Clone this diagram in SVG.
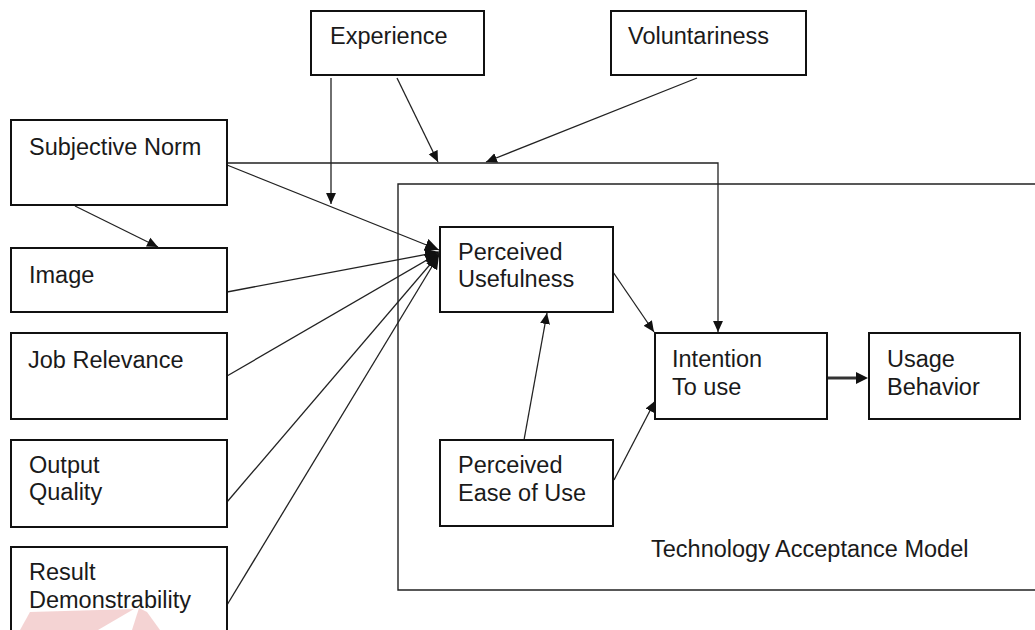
<svg xmlns="http://www.w3.org/2000/svg" width="1035" height="630" viewBox="0 0 1035 630">
<defs>
<style>
.box{fill:#fff;stroke:#111;stroke-width:2}
.frame{fill:none;stroke:#222;stroke-width:1.4}
.t{font-family:"Liberation Sans",Arial,sans-serif;font-size:23.5px;fill:#1a1a1a}
.c{fill:none;stroke:#222;stroke-width:1.3}
.thick{fill:none;stroke:#333;stroke-width:3}
.wm{fill:#f0c0c0;opacity:0.7}
</style>
<marker id="ah" viewBox="0 0 10 10" refX="10" refY="5" markerWidth="11" markerHeight="11" markerUnits="userSpaceOnUse" orient="auto">
<path d="M0,0.5 L10,5 L0,9.5 Z" fill="#111"/>
</marker>
<marker id="ahb" viewBox="0 0 10 10" refX="10" refY="5" markerWidth="14" markerHeight="14" markerUnits="userSpaceOnUse" orient="auto">
<path d="M0,0.5 L10,5 L0,9.5 Z" fill="#111"/>
</marker>
</defs>
<rect width="1035" height="630" fill="#fff"/>

<g id="tam-frame">
<path class="frame" d="M1036,184 H398 V590 H1036"/>
<text class="t" x="651" y="557">Technology Acceptance Model</text>
</g>

<g id="connectors">
<path class="c" d="M227,163 H718 V332" marker-end="url(#ah)"/>
<line class="c" x1="331" y1="78" x2="331" y2="204" marker-end="url(#ah)"/>
<line class="c" x1="397" y1="78" x2="438" y2="162" marker-end="url(#ah)"/>
<line class="c" x1="697" y1="78" x2="486" y2="162" marker-end="url(#ah)"/>
<line class="c" x1="75" y1="206" x2="158" y2="247" marker-end="url(#ah)"/>
<line class="c" x1="227" y1="165" x2="439" y2="250" marker-end="url(#ahb)"/>
<line class="c" x1="227" y1="292" x2="439" y2="252" marker-end="url(#ahb)"/>
<line class="c" x1="227" y1="376" x2="439" y2="253" marker-end="url(#ahb)"/>
<line class="c" x1="227" y1="502" x2="439" y2="254" marker-end="url(#ahb)"/>
<line class="c" x1="227" y1="605" x2="439" y2="255" marker-end="url(#ahb)"/>
<line class="c" x1="524" y1="440" x2="547" y2="313" marker-end="url(#ah)"/>
<line class="c" x1="613" y1="272" x2="654" y2="332" marker-end="url(#ah)"/>
<line class="c" x1="614" y1="480" x2="655" y2="401" marker-end="url(#ah)"/>
<line class="thick" x1="827" y1="378" x2="858" y2="378"/>
<path d="M856,372 L868,378 L856,384 Z" fill="#111"/>
</g>

<g id="experience">
<rect class="box" x="311" y="11" width="173" height="64"/>
<text class="t" x="330" y="44">Experience</text>
</g>
<g id="voluntariness">
<rect class="box" x="611" y="11" width="195" height="64"/>
<text class="t" x="628" y="44">Voluntariness</text>
</g>
<g id="subjective-norm">
<rect class="box" x="11" y="120" width="216" height="85"/>
<text class="t" x="29" y="155">Subjective Norm</text>
</g>
<g id="image">
<rect class="box" x="11" y="248" width="216" height="64"/>
<text class="t" x="29" y="283">Image</text>
</g>
<g id="job-relevance">
<rect class="box" x="11" y="333" width="216" height="86"/>
<text class="t" x="28" y="368">Job Relevance</text>
</g>
<g id="output-quality">
<rect class="box" x="11" y="440" width="216" height="87"/>
<text class="t" x="29" y="473">Output</text>
<text class="t" x="29" y="500">Quality</text>
</g>
<g id="result-demonstrability">
<rect class="box" x="11" y="547" width="216" height="100"/>
<text class="t" x="29" y="580">Result</text>
<text class="t" x="29" y="608">Demonstrability</text>
</g>
<g id="perceived-usefulness">
<rect class="box" x="440" y="227" width="173" height="85"/>
<text class="t" x="458" y="260">Perceived</text>
<text class="t" x="458" y="287">Usefulness</text>
</g>
<g id="perceived-ease-of-use">
<rect class="box" x="440" y="440" width="173" height="86"/>
<text class="t" x="458" y="473">Perceived</text>
<text class="t" x="458" y="501">Ease of Use</text>
</g>
<g id="intention-to-use">
<rect class="box" x="655" y="333" width="172" height="86"/>
<text class="t" x="672" y="367">Intention</text>
<text class="t" x="672" y="395">To use</text>
</g>
<g id="usage-behavior">
<rect class="box" x="869" y="333" width="151" height="86"/>
<text class="t" x="887" y="367">Usage</text>
<text class="t" x="887" y="395">Behavior</text>
</g>

<g id="watermark">
<polygon class="wm" points="20,630 30,612 134,609 98,630"/>
<polygon class="wm" points="139,608 147,612 160,630 132,630"/>
</g>
</svg>
